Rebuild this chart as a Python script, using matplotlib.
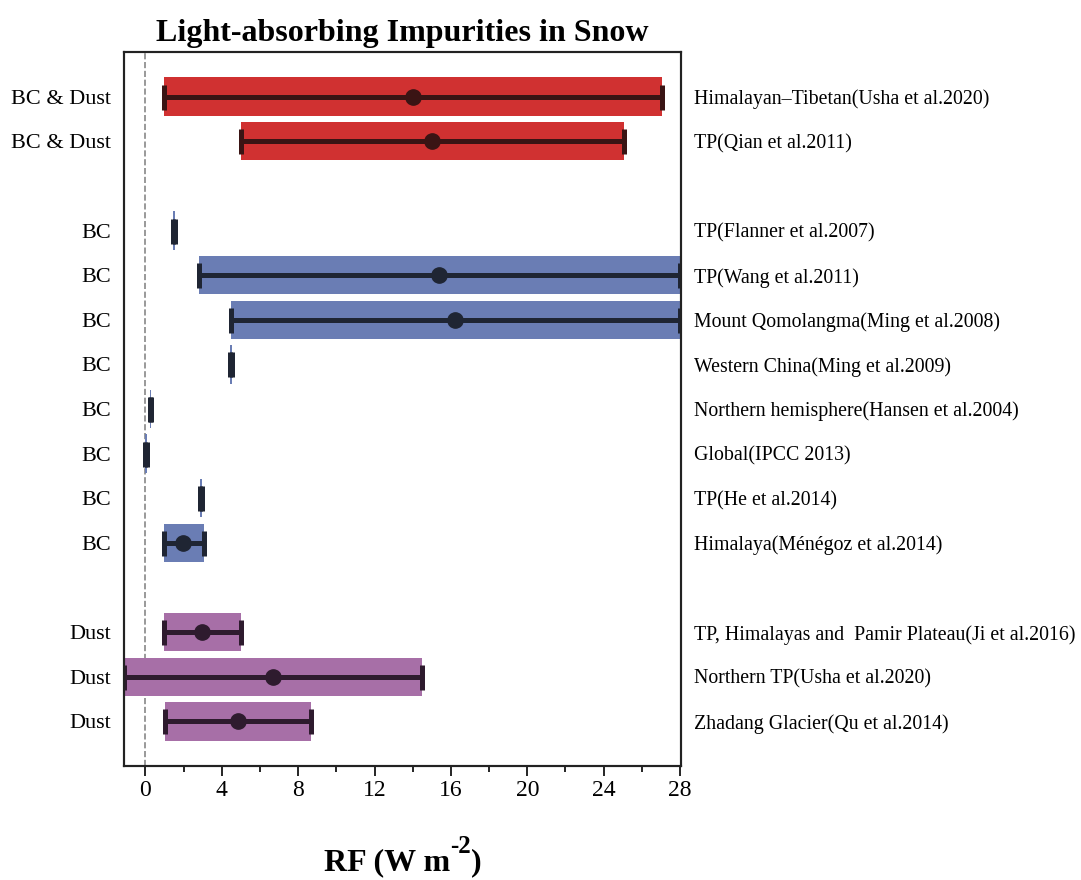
import numpy as np
import matplotlib.pyplot as plt
from matplotlib.ticker import MultipleLocator

# --- data (RF in W m-2)
kinds = ['BC & Dust', 'BC & Dust',
         'BC', 'BC', 'BC', 'BC', 'BC', 'BC', 'BC', 'BC',
         'Dust', 'Dust', 'Dust']
sources = ['Himalayan\u2013Tibetan(Usha et al.2020)', 'TP(Qian et al.2011)',
           'TP(Flanner et al.2007)', 'TP(Wang et al.2011)',
           'Mount Qomolangma(Ming et al.2008)', 'Western China(Ming et al.2009)',
           'Northern hemisphere(Hansen et al.2004)', 'Global(IPCC 2013)',
           'TP(He et al.2014)', 'Himalaya(M\u00e9n\u00e9goz et al.2014)',
           'TP, Himalayas and  Pamir Plateau(Ji et al.2016)',
           'Northern TP(Usha et al.2020)', 'Zhadang Glacier(Qu et al.2014)']
low = [1.0, 5.0, 1.45, 2.8, 4.5, 4.45, 0.22, 0.0, 2.85, 1.0, 1.0, -1.1, 1.05]
high = [27.05, 25.05, 1.55, 28.0, 28.0, 4.55, 0.32, 0.1, 2.95, 3.05, 5.0, 14.5, 8.65]
mean = [14.0, 15.0, np.nan, 15.4, 16.2, np.nan, np.nan, np.nan, np.nan, 1.95, 2.95, 6.7, 4.85]
rows = [0, 1, 3, 4, 5, 6, 7, 8, 9, 10, 12, 13, 14]

colors = {'BC & Dust': '#d03131', 'BC': '#6a7db4', 'Dust': '#a76fa7'}
edge = {'BC & Dust': '#3a1414', 'BC': '#1f2533', 'Dust': '#2e1b2e'}

plt.rcParams['font.family'] = ['Liberation Serif', 'DejaVu Serif']

fig = plt.figure(figsize=(10.81, 8.8), dpi=100)
ax = fig.add_axes([0.1147, 0.1295, 0.5153, 0.8114])

for k, lo, hi, m, r in zip(kinds, low, high, mean, rows):
    ax.barh(r, hi - lo, left=lo, height=0.86, color=colors[k], zorder=2)
    mid = m if not np.isnan(m) else (lo + hi) / 2
    ax.errorbar(mid, r, xerr=[[mid - lo], [hi - mid]], fmt='none',
                ecolor=edge[k], elinewidth=3.6, capsize=9, capthick=3.6, zorder=3)
    if not np.isnan(m):
        ax.plot(m, r, 'o', color=edge[k], markersize=11, zorder=4)

ax.axvline(0, color='#888888', linestyle='--', linewidth=1.2, zorder=1)

ax.set_xlim(-1.12, 28.05)
ax.set_ylim(15, -1)
ax.xaxis.set_major_locator(MultipleLocator(4))
ax.xaxis.set_minor_locator(MultipleLocator(2))
ax.tick_params(axis='x', which='major', length=7, width=1.2, labelsize=17, pad=3)
ax.tick_params(axis='x', which='minor', length=4, width=1.2)

ax.set_yticks(rows)
ax.set_yticklabels(kinds, fontsize=16)
ax.tick_params(axis='y', length=0, pad=9)

ax2 = ax.twinx()
ax2.set_ylim(ax.get_ylim())
ax2.set_yticks(rows)
ax2.set_yticklabels(sources, fontsize=14.3)
ax2.tick_params(axis='y', length=0, pad=9)

for a in (ax, ax2):
    for s in a.spines.values():
        s.set_linewidth(1.5)
        s.set_color('#222222')

ax.set_title('Light-absorbing Impurities in Snow', fontsize=23, fontweight='bold', pad=8)

# x label built from pieces so the superscript keeps a plain hyphen
base_y = 10   # pixel baseline from bottom of figure
inv = fig.transFigure.inverted()
parts = [('RF (W m', 23, 0), ('-2', 18, 17), (')', 23, 0)]
texts = []
x = 0
fig.canvas.draw()
for s, size, dy in parts:
    t = fig.text(x, 0, s, fontsize=size, fontweight='bold', va='baseline', ha='left')
    t._dy = dy
    bb = t.get_window_extent(fig.canvas.get_renderer())
    texts.append((t, x, dy))
    x += bb.width / fig.bbox.width
centre = (0.1147 + 0.5153 / 2)
offset = centre - x / 2
for t, px, dy in texts:
    t.set_position((px + offset, (base_y + dy) / fig.bbox.height))

fig.savefig('out.png', dpi=100)
